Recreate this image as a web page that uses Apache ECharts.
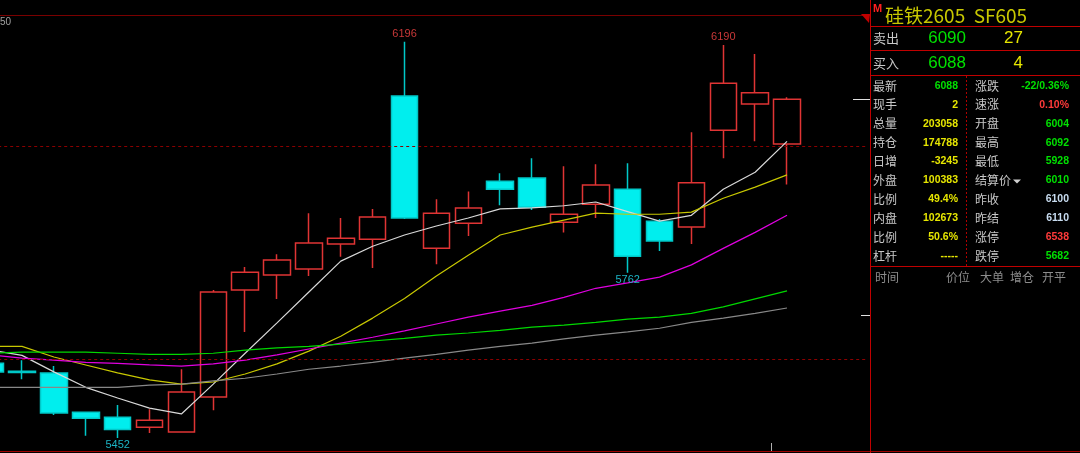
<!DOCTYPE html>
<html><head><meta charset="utf-8">
<script src="https://cdn.jsdelivr.net/npm/echarts@6/dist/echarts.min.js"></script>
<style>html,body{margin:0;padding:0;background:#000;overflow:hidden}#c{width:1080px;height:453px;}</style>
</head><body><div id="c"></div>
<script>
// ---- data ----
const categories = ['1','2','3','4','5','6','7','8','9','10','11','12','13','14','15','16','17','18','19','20','21','22','23','24','25','26','27','28'];
const opens  = [5592,5577,5574,5500,5491,5472,5463,5529,5730,5758,5769,5816,5825,6094,5808,5855,5934,5940,5857,5891,5919,5859,5848,6030,6079,6004];
const closes = [5576,5575,5499,5489,5468,5485,5538,5726,5763,5786,5818,5827,5867,5865,5874,5884,5919,5885,5872,5927,5793,5822,5931,6118,6100,6088];
const lows   = [5570,5562,5495,5456,5452,5461,5462,5504,5651,5713,5756,5792,5771,5863,5778,5831,5889,5880,5838,5865,5762,5803,5816,5977,6009,5928];
const highs  = [5598,5598,5587,5501,5514,5506,5581,5730,5773,5797,5874,5865,5882,6196,5900,5915,5949,5977,5962,5966,5968,5863,6026,6190,6173,6092];
const ma5  = [5617,5607,5576,5547,5527,5508,5497,5553,5611,5668,5726,5784,5812,5833,5850,5865,5882,5884,5888,5895,5877,5859,5870,5919,5951,6009];
const ma10 = [5624,5624,5604,5589,5574,5561,5553,5557,5572,5591,5615,5643,5677,5714,5756,5795,5833,5848,5861,5874,5872,5872,5876,5902,5923,5946];
const ma20 = [5608,5602,5598,5594,5592,5589,5587,5591,5598,5608,5619,5630,5641,5653,5666,5679,5690,5701,5716,5733,5743,5754,5777,5808,5838,5870];
const ma40 = [5611,5613,5613,5613,5611,5609,5609,5611,5617,5621,5624,5628,5634,5639,5645,5649,5654,5660,5664,5669,5675,5679,5686,5698,5713,5728];
const ma60 = [5547,5547,5547,5547,5547,5551,5553,5559,5564,5572,5581,5587,5594,5602,5609,5617,5624,5630,5638,5645,5651,5658,5669,5677,5686,5696];
const highMarks = [13, 23];   // candles whose high is labelled
const lowMarks  = [4, 20];    // candles whose low is labelled
const gridLevels = [6000, 5600];
const lastPrice = 6088;
const limitDown = 5682;
const axisLabelTop = '50';

const title = '硅铁2605  SF605';
const askLabel = '卖出', askPrice = '6090', askVol = '27';
const bidLabel = '买入', bidPrice = '6088', bidVol = '4';
const leftLabels  = ['最新','现手','总量','持仓','日增','外盘','比例','内盘','比例','杠杆'];
const leftValues  = ['6088','2','203058','174788','-3245','100383','49.4%','102673','50.6%','-----'];
const rightLabels = ['涨跌','速涨','开盘','最高','最低','结算价','昨收','昨结','涨停','跌停'];
const rightValues = ['-22/0.36%','0.10%','6004','6092','5928','6010','6100','6110','6538','5682'];
const tickHeaders = ['时间','价位','大单','增仓','开平'];

// ---- styles ----
const GREEN = '#00e000', YEL = '#e6e600', RED = '#ff3a3a', LBL = '#c8c8c8', BLUE = '#c8dcf0';
const leftColors  = [GREEN, YEL, YEL, YEL, YEL, YEL, YEL, YEL, YEL, YEL];
const rightColors = [GREEN, RED, GREEN, GREEN, GREEN, GREEN, BLUE, BLUE, RED, GREEN];

const kdata = opens.map((o, i) => [o, closes[i], lows[i], highs[i]]);

const chart = echarts.init(document.getElementById('c'), null, {renderer: 'canvas'});

function maSeries(name, data, color) {
  return {type: 'line', name, data, symbol: 'none', silent: true,
    lineStyle: {color, width: 1.2}, z: 3};
}

const markData = [];
highMarks.forEach(i => markData.push({coord: [i, highs[i]], value: highs[i],
  label: {position: 'top', distance: 2, color: '#c83838'}}));
lowMarks.forEach(i => markData.push({coord: [i, lows[i]], value: lows[i],
  label: {position: 'bottom', distance: 2, color: '#1cb4c4'}}));

chart.setOption({
  backgroundColor: '#000',
  animation: false,
  grid: {left: -25.8, top: 13, width: 892.5, height: 452.6, containLabel: false, outerBoundsMode: 'none'},
  xAxis: {type: 'category', data: categories, boundaryGap: true, show: false},
  yAxis: {type: 'value', min: 5400, max: 6250, show: false, splitLine: {show: false}},
  series: [
    {type: 'candlestick', data: kdata, barWidth: 27, z: 2,
      itemStyle: {color: 'transparent', color0: '#00eeee', borderColor: '#e03434', borderColor0: '#00c8c8', borderWidth: 1.5},
      markLine: {symbol: 'none', silent: true, label: {show: false},
        lineStyle: {color: '#8c0000', type: [3, 3], width: 1},
        data: gridLevels.map(v => ({yAxis: v}))},
      markPoint: {symbol: 'circle', symbolSize: 0, silent: true,
        label: {show: true, formatter: p => String(p.value), fontSize: 11, fontFamily: 'Liberation Sans'},
        data: markData}
    },
    maSeries('MA5', ma5, '#d8d8d8'),
    maSeries('MA10', ma10, '#c8c800'),
    maSeries('MA20', ma20, '#e000e0'),
    maSeries('MA40', ma40, '#00d800'),
    maSeries('MA60', ma60, '#888888')
  ]
});

// ---- frame, ticks and quote panel ----
const yPx = v => chart.convertToPixel({yAxisIndex: 0}, v);
const g = [];
function line(x1, y1, x2, y2, stroke, dash) {
  g.push({type: 'line', silent: true, shape: {x1, y1, x2, y2},
    style: {stroke, lineWidth: 1, lineDash: dash || null}, z: 10});
}
function text(t, x, y, fill, font, align) {
  g.push({type: 'text', silent: true, z: 11,
    style: {text: t, x, y, fill, font, align: align || 'left', textAlign: align || 'left',
      verticalAlign: 'middle', textVerticalAlign: 'middle'}});
}
const PR = '#c00000';
text(axisLabelTop, 0, 22, '#a0a0a0', '10px "Liberation Sans"');
line(0, 15.5, 870, 15.5, '#7a0000');
line(0, 451.5, 1080, 451.5, '#a00000');
line(870.5, 0, 870.5, 453, PR);
g.push({type: 'polygon', silent: true, z: 10, shape: {points: [[861, 14], [870, 14], [869, 23]]}, style: {fill: '#c00000'}});
const yl = Math.round(yPx(lastPrice)) + 0.5;
line(853, yl, 870, yl, '#e0e0e0');
const yd = Math.round(yPx(limitDown)) + 0.5;
line(861, yd, 870, yd, '#e0e0e0');
line(771.5, 443, 771.5, 451, '#b0b0b0');

// panel
line(870, 26.5, 1080, 26.5, PR);
line(870, 50.5, 1080, 50.5, PR);
line(870, 75.5, 1080, 75.5, PR);
line(870, 266.5, 1080, 266.5, PR);
line(966.5, 76, 966.5, 266, '#b00000', [2, 2]);
text('M', 873, 9, '#ff2020', 'bold 11px "Liberation Sans"');
text(title, 885, 16, '#c8c800', '19px "Noto Sans CJK SC"');
const CJK = '12px "Noto Sans CJK SC"';
text(askLabel, 873, 38, LBL, '13px "Noto Sans CJK SC"');
text(askPrice, 966, 38, GREEN, '17px "Liberation Sans"', 'right');
text(askVol, 1023, 38, YEL, '17px "Liberation Sans"', 'right');
text(bidLabel, 873, 63, LBL, '13px "Noto Sans CJK SC"');
text(bidPrice, 966, 63, GREEN, '17px "Liberation Sans"', 'right');
text(bidVol, 1023, 63, YEL, '17px "Liberation Sans"', 'right');
const NUM = 'bold 10.5px "Liberation Sans"';
leftLabels.forEach((l, i) => {
  const y = 86 + i * 18.9;
  text(l, 873, y, LBL, CJK);
  text(leftValues[i], 958, y, leftColors[i], NUM, 'right');
  text(rightLabels[i], 975, y, LBL, CJK);
  text(rightValues[i], 1069, y, rightColors[i], NUM, 'right');
});
// settlement dropdown marker
const ys = 86 + 5 * 18.9;
g.push({type: 'polygon', silent: true, z: 11, shape: {points: [[1013, ys - 1], [1021, ys - 1], [1017, ys + 3]]}, style: {fill: '#d0d0d0'}});
const hx = [875, 946, 980, 1010, 1042];
tickHeaders.forEach((h, i) => text(h, hx[i], 277, '#8c8c8c', CJK));

chart.setOption({graphic: {elements: g}});
</script>
</body></html>
